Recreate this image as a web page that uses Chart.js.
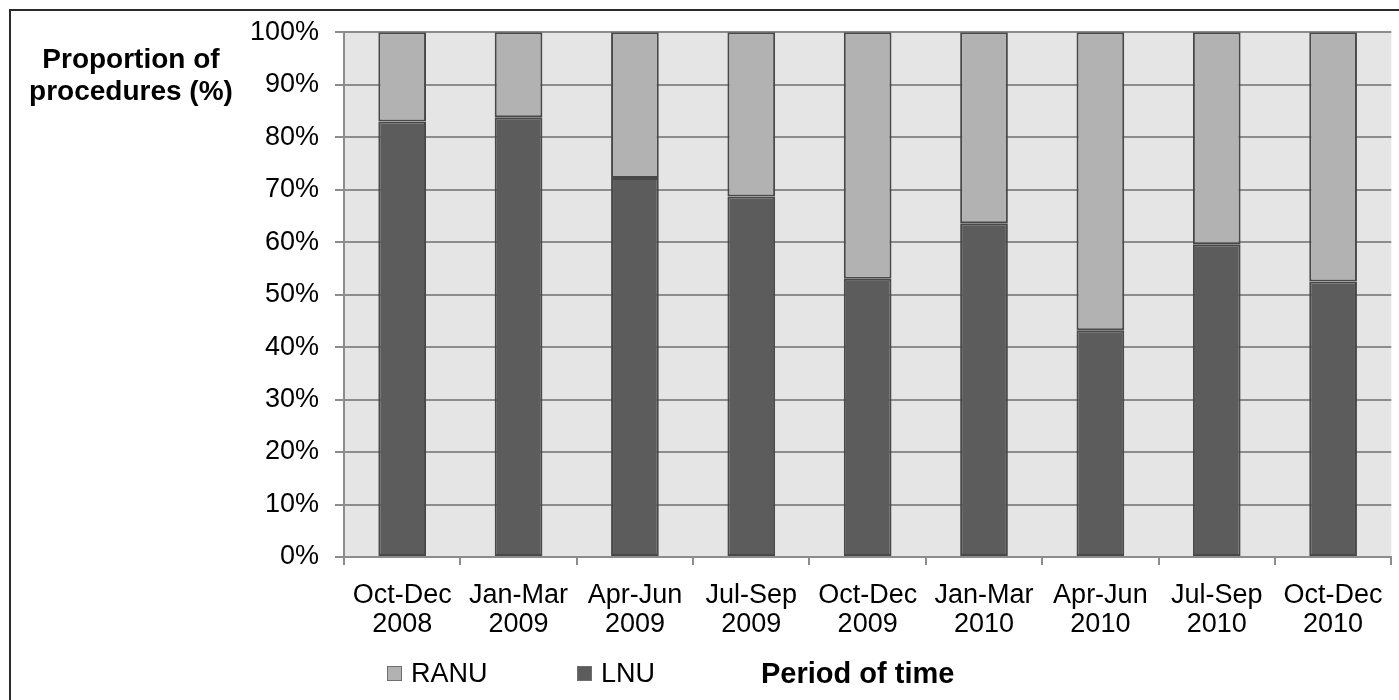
<!DOCTYPE html>
<html>
<head>
<meta charset="utf-8">
<script src="https://cdn.jsdelivr.net/npm/chart.js@4.4.1/dist/chart.umd.min.js"></script>
<style>
  body { margin: 0; background: #fff; font-family: "Liberation Sans", Arial, sans-serif; }
  #wrap { position: relative; width: 1399px; height: 700px; overflow: hidden; }
  #frame { position: absolute; left: 9px; top: 9px; width: 1400px; height: 720px; border: 2px solid #2a2a2a; box-sizing: border-box; pointer-events: none; }
  canvas { position: absolute; left: 0; top: 0; }
  #ytitle { position: absolute; left: 0; top: 43px; width: 262px; text-align: center; font-weight: bold; font-size: 28px; line-height: 32px; color: #000; }
  #legend { position: absolute; left: 0; top: 655px; width: 1399px; height: 36px; font-size: 27px; color: #000; }
  .item { position: absolute; top: 0; height: 36px; display: flex; align-items: center; }
  .box { width: 13px; height: 13px; border: 1px solid #6e6e6e; margin-right: 9px; }
  #xtitle { position: absolute; left: 761px; top: 655px; height: 36px; line-height: 36px; font-weight: bold; font-size: 29px; color: #000; }
</style>
</head>
<body>
<div id="wrap">
  <canvas id="chart" width="1399" height="700"></canvas>
  <div id="ytitle">Proportion of<br>procedures (%)</div>
  <div id="legend"></div>
  <div id="xtitle">Period of time</div>
  <div id="frame"></div>
</div>
<script>
// quarters on the x axis (two lines each)
const periods = [
  ["Oct-Dec", "2008"], ["Jan-Mar", "2009"], ["Apr-Jun", "2009"],
  ["Jul-Sep", "2009"], ["Oct-Dec", "2009"], ["Jan-Mar", "2010"],
  ["Apr-Jun", "2010"], ["Jul-Sep", "2010"], ["Oct-Dec", "2010"]
];
// share of procedures, percent
const lnu  = [83.0, 83.8, 72.2, 68.7, 53.0, 63.6, 43.2, 59.6, 52.5];
const ranu = [17.0, 16.2, 27.8, 31.3, 47.0, 36.4, 56.8, 40.4, 47.5];
const yTicks = [0, 10, 20, 30, 40, 50, 60, 70, 80, 90, 100];

Chart.defaults.font.family = '"Liberation Sans", Arial, sans-serif';
Chart.defaults.color = "#000";

const gridGray = "#8c8c8c";

// grey plot background
const plotBg = {
  id: "plotBg",
  beforeDraw(chart) {
    const a = chart.chartArea;
    const ctx = chart.ctx;
    ctx.save();
    ctx.fillStyle = "#e5e5e5";
    ctx.fillRect(a.left, a.top, a.right - a.left, a.bottom - a.top);
    ctx.restore();
  }
};

const ctx = document.getElementById("chart");

const chart = new Chart(ctx, {
  type: "bar",
  data: {
    labels: periods,
    datasets: [
      {
        label: "LNU",
        data: lnu,
        backgroundColor: "#5c5c5c",
        borderColor: "#484848",
        borderWidth: 2,
        borderSkipped: false
      },
      {
        label: "RANU",
        data: ranu,
        backgroundColor: "#b2b2b2",
        borderColor: "#484848",
        borderWidth: 2,
        borderSkipped: false
      }
    ]
  },
  options: {
    responsive: false,
    animation: false,
    layout: { padding: { top: 32, right: 7, bottom: 0, left: 0 } },
    datasets: { bar: { barPercentage: 0.41, categoryPercentage: 1.0 } },
    plugins: {
      legend: { display: false },
      tooltip: { enabled: false }
    },
    scales: {
      x: {
        stacked: true,
        afterFit(scale) { scale.height = 143; },
        grid: { drawOnChartArea: false, drawTicks: true, tickLength: 8, color: gridGray, lineWidth: 2 },
        border: { display: true, color: gridGray, width: 2 },
        ticks: { font: { size: 27, lineHeight: 1.08 }, padding: 16, maxRotation: 0, autoSkip: false, color: "#000" }
      },
      y: {
        stacked: true,
        min: 0,
        max: 100,
        afterFit(scale) { scale.width = 344; },
        afterBuildTicks(scale) { scale.ticks = yTicks.map(v => ({ value: v })); },
        grid: { color: gridGray, lineWidth: 2, tickLength: 9 },
        border: { display: true, color: gridGray, width: 2 },
        ticks: { font: { size: 27 }, padding: 16, color: "#000", callback: v => v + "%" }
      }
    }
  },
  plugins: [plotBg]
});

// html legend built from the datasets, RANU first like the original
const legendEl = document.getElementById("legend");
const legendX = [387, 577];
chart.data.datasets.slice().reverse().forEach((ds, i) => {
  const item = document.createElement("div");
  item.className = "item";
  item.style.left = legendX[i] + "px";
  const box = document.createElement("span");
  box.className = "box";
  box.style.background = ds.backgroundColor;
  item.appendChild(box);
  item.appendChild(document.createTextNode(ds.label));
  legendEl.appendChild(item);
});
</script>
</body>
</html>
